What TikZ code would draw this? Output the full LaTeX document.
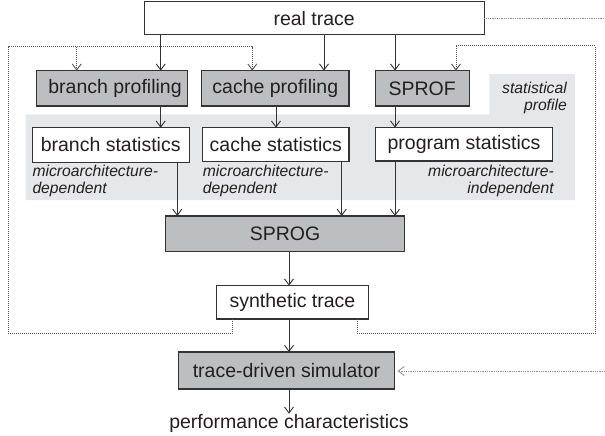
\documentclass[tikz,border=0pt]{standalone}
\usepackage{fontspec}
\setmainfont{Liberation Sans}
\usetikzlibrary{arrows.meta}
\definecolor{boxgray}{HTML}{BCBEC0}
\definecolor{bggray}{HTML}{E6E7E8}
\definecolor{linecol}{HTML}{333333}
\definecolor{txtcol}{HTML}{231F20}
\definecolor{dotcol}{HTML}{555555}
\definecolor{farcol}{HTML}{8A8A8A}
\tikzset{
  box/.style={draw=linecol, line width=1.1pt, fill=white, inner sep=0pt, outer sep=0pt,
    text=txtcol, font=\fontsize{19.5}{22}\selectfont},
  gbox/.style={box, fill=boxgray},
  arr/.style={draw=linecol, line width=0.9pt, -{Straight Barb[length=6pt,width=9pt]}},
  dotline/.style={draw=dotcol, line width=0.9pt, dash pattern=on 1pt off 1pt},
  dotarr/.style={dotline, -{Straight Barb[length=6pt,width=9pt]}},
  farline/.style={draw=farcol, line width=0.8pt, dash pattern=on 1pt off 0.8pt},
  note/.style={font=\fontsize{15.7}{17}\selectfont\itshape, text=txtcol, inner sep=0pt}
}
\begin{document}
\begin{tikzpicture}[x=1pt,y=-1pt]
\useasboundingbox (0,0) rectangle (605,436);
% grey background of statistical profile
\fill[bggray] (25.7,114.3) -- (489.3,114.3) -- (489.3,74) -- (575,74) -- (575,200) -- (25.7,200) -- cycle;
\node[note, align=right, anchor=east] (statp) at (567,97.5) {statistical\\profile};

% boxes
\node[box, minimum width=340.3pt, minimum height=33.3pt] (real) at (314.2,18.3) {real trace};
\node[gbox, minimum width=150.6pt, minimum height=35.3pt] (bprof) at (112,88.3) {\hspace{6pt}branch profiling};
\node[gbox, minimum width=147.3pt, minimum height=35.3pt] (cprof) at (275.3,88.3) {cache profiling};
\node[gbox, minimum width=94.3pt, minimum height=35.3pt] (sprof) at (422.2,88.3) {SPROF};
\node[box, minimum width=156.7pt, minimum height=34.6pt] (bstat) at (110.7,145) {branch statistics};
\node[box, minimum width=146.3pt, minimum height=34pt] (cstat) at (275.8,144.7) {cache statistics};
\node[box, minimum width=176.6pt, minimum height=33.3pt] (pstat) at (464,144.3) {program statistics};
\node[gbox, minimum width=238.6pt, minimum height=35.7pt] (sprog) at (285,233.8) {SPROG};
\node[box, minimum width=151.6pt, minimum height=33.3pt] (synth) at (292.5,302.3) {synthetic trace};
\node[gbox, minimum width=216.2pt, minimum height=37pt] (sim) at (286.5,370.5) {trace-driven simulator};
\node[text=txtcol, font=\fontsize{19.5}{22}\selectfont, inner sep=0pt] (perf) at (289,423) {performance characteristics};

% notes
\node[note, align=left, anchor=west] (bnote) at (32.3,180.6) {microarchitecture-\\dependent};
\node[note, align=left, anchor=west] (cnote) at (202.7,180.6) {microarchitecture-\\dependent};
\node[note, align=right, anchor=east] (pnote) at (554,180.6) {microarchitecture-\\independent};

% x positions
\coordinate (xa) at (160.7,0);
\coordinate (xb) at (324,0);
\coordinate (xc) at (395,0);
\coordinate (xd) at (276,0);
\coordinate (xe) at (177.3,0);
\coordinate (xf) at (341.7,0);
\coordinate (xg) at (289,0);

% solid arrows
\draw[arr] (real.south -| xa) -- (bprof.north -| xa);
\draw[arr] (real.south -| xb) -- (cprof.north -| xb);
\draw[arr] (real.south -| xc) -- (sprof.north -| xc);
\draw[arr] (bprof.south -| xa) -- (bstat.north -| xa);
\draw[arr] (cprof.south -| xd) -- (cstat.north -| xd);
\draw[arr] (sprof.south -| xc) -- (pstat.north -| xc);
\draw[arr] (bstat.south -| xe) -- (sprog.north -| xe);
\draw[arr] (cstat.south -| xf) -- (sprog.north -| xf);
\draw[arr] (pstat.south -| xc) -- (sprog.north -| xc);
\draw[arr] (sprog.south -| xg) -- (synth.north -| xg);
\draw[arr] (synth.south -| xg) -- (sim.north -| xg);
\draw[arr] (sim.south -| xg) -- (perf.north -| xg);

% dotted feedback loops
\coordinate (ll) at (232.8,333);
\coordinate (lr) at (357,333);
\coordinate (xh) at (76.7,0);
\coordinate (xi) at (252.3,0);
\coordinate (xj) at (456,0);
\draw[dotarr] (synth.south -| ll) -- (ll) -- (8.3,333) -- (8.3,46.7) -- (252.3,46.7) -- (cprof.north -| xi);
\draw[dotarr] (76.7,46.7) -- (bprof.north -| xh);
\draw[dotarr] (synth.south -| lr) -- (lr) -- (595.5,333) -- (595.5,45.7) -- (456,45.7) -- (sprof.north -| xj);

% lines leaving the picture
\coordinate (eout) at (605,18.3);
\coordinate (ein) at (605,371);
\draw[farline] (real.east |- eout) -- (eout);
\draw[farline, -{Straight Barb[length=6pt,width=9pt]}] (ein) -- ([xshift=3pt]sim.east |- ein);
\end{tikzpicture}
\end{document}
